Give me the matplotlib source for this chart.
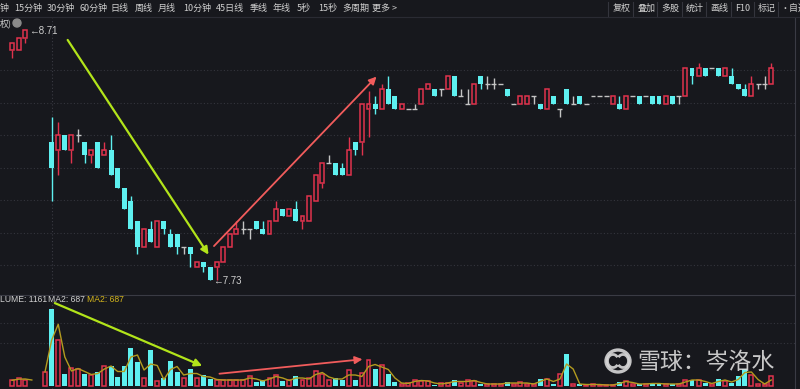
import numpy as np
import pandas as pd
import matplotlib
matplotlib.use("Agg")
import matplotlib.pyplot as plt
from matplotlib.patches import Ellipse, Arc

plt.rcParams['font.family'] = ['Noto Sans CJK SC', 'DejaVu Sans']

nan = np.nan
# daily candles (index 0 = leftmost bar)
opens = [8.63, 8.63, 8.68, nan, nan, nan, 8.27, 8.24, 8.30, 8.24,
         8.30, 8.27, 8.22, 8.27, 8.22, 8.24, 8.17, 8.09, 8.04, 7.96,
         7.86, 7.93, 7.86, 7.96, 7.91, 7.91, 7.86, 7.86, 7.78, 7.80,
         7.78, 7.78, 7.80, 7.86, 7.91, 7.93, 7.93, 7.96, 7.93, 7.91,
         7.96, 8.01, 7.98, 8.01, 7.96, 7.96, 8.04, 8.11, 8.19, 8.19,
         8.17, 8.14, 8.27, 8.27, 8.40, 8.42, 8.40, 8.48, 8.45, 8.40,
         8.40, 8.40, 8.42, 8.48, 8.48, 8.48, 8.48, 8.53, 8.45, 8.42,
         8.42, 8.53, 8.50, 8.50, 8.50, 8.48, 8.42, 8.42, 8.42, 8.45,
         8.42, 8.40, 8.45, 8.40, 8.48, 8.42, 8.45, 8.42, 8.45, 8.45,
         8.45, 8.42, 8.42, 8.40, 8.45, 8.45, 8.45, 8.45, 8.45, 8.42,
         8.45, 8.45, 8.45, 8.56, 8.53, 8.56, 8.56, 8.56, 8.53, 8.53,
         8.50, 8.48, 8.45, 8.50, 8.50, 8.50]
closes = [8.66, 8.68, 8.71, nan, nan, nan, 8.17, 8.30, 8.24, 8.30,
          8.30, 8.22, 8.24, 8.17, 8.24, 8.14, 8.09, 8.01, 7.93, 7.86,
          7.93, 7.88, 7.96, 7.93, 7.86, 7.86, 7.86, 7.83, 7.80, 7.78,
          7.73, 7.80, 7.86, 7.91, 7.93, 7.93, 7.93, 7.93, 7.91, 7.96,
          8.01, 7.98, 8.01, 7.96, 7.98, 8.06, 8.14, 8.19, 8.19, 8.14,
          8.14, 8.24, 8.24, 8.42, 8.42, 8.40, 8.48, 8.42, 8.40, 8.42,
          8.40, 8.40, 8.48, 8.50, 8.45, 8.48, 8.53, 8.45, 8.45, 8.42,
          8.50, 8.50, 8.50, 8.50, 8.50, 8.45, 8.42, 8.45, 8.45, 8.45,
          8.40, 8.48, 8.42, 8.40, 8.42, 8.42, 8.42, 8.42, 8.45, 8.45,
          8.45, 8.45, 8.40, 8.45, 8.45, 8.42, 8.45, 8.42, 8.42, 8.45,
          8.42, 8.45, 8.56, 8.53, 8.56, 8.53, 8.56, 8.53, 8.56, 8.50,
          8.48, 8.45, 8.50, 8.50, 8.50, 8.56]
highs = [8.66, 8.68, 8.71, nan, nan, nan, 8.37, 8.35, 8.30, 8.30,
         8.32, 8.27, 8.24, 8.27, 8.27, 8.30, 8.17, 8.09, 8.06, 7.96,
         7.93, 7.96, 7.96, 7.96, 7.93, 7.91, 7.86, 7.86, 7.80, 7.80,
         7.78, 7.80, 7.86, 7.91, 7.96, 7.96, 7.93, 7.96, 7.96, 7.96,
         8.04, 8.01, 8.01, 8.04, 7.98, 8.06, 8.14, 8.19, 8.22, 8.19,
         8.19, 8.29, 8.27, 8.42, 8.47, 8.45, 8.50, 8.53, 8.45, 8.42,
         8.40, 8.42, 8.48, 8.50, 8.48, 8.48, 8.53, 8.53, 8.48, 8.48,
         8.50, 8.53, 8.53, 8.52, 8.50, 8.48, 8.42, 8.45, 8.45, 8.45,
         8.42, 8.48, 8.45, 8.40, 8.48, 8.45, 8.45, 8.42, 8.45, 8.45,
         8.45, 8.45, 8.45, 8.45, 8.45, 8.45, 8.45, 8.45, 8.45, 8.45,
         8.45, 8.45, 8.56, 8.56, 8.58, 8.56, 8.56, 8.56, 8.56, 8.56,
         8.50, 8.50, 8.53, 8.50, 8.53, 8.58]
lows = [8.60, 8.63, 8.66, nan, nan, nan, 8.04, 8.14, 8.24, 8.19,
        8.27, 8.19, 8.19, 8.17, 8.22, 8.14, 8.09, 8.01, 7.93, 7.83,
        7.86, 7.88, 7.86, 7.91, 7.86, 7.83, 7.83, 7.78, 7.78, 7.76,
        7.73, 7.73, 7.80, 7.86, 7.91, 7.91, 7.89, 7.93, 7.91, 7.91,
        7.96, 7.98, 7.98, 7.96, 7.93, 7.96, 8.04, 8.09, 8.19, 8.14,
        8.14, 8.14, 8.22, 8.22, 8.29, 8.38, 8.40, 8.42, 8.40, 8.40,
        8.40, 8.40, 8.42, 8.48, 8.45, 8.45, 8.48, 8.45, 8.45, 8.42,
        8.42, 8.48, 8.48, 8.48, 8.50, 8.45, 8.42, 8.42, 8.42, 8.42,
        8.40, 8.40, 8.42, 8.37, 8.42, 8.42, 8.42, 8.42, 8.45, 8.45,
        8.45, 8.42, 8.40, 8.40, 8.45, 8.42, 8.45, 8.42, 8.42, 8.42,
        8.42, 8.42, 8.45, 8.50, 8.53, 8.53, 8.56, 8.53, 8.53, 8.50,
        8.48, 8.45, 8.45, 8.48, 8.48, 8.50]
volumes = [85, 120, 90, nan, nan, 213, 1161, 690, 180, 270,
           255, 180, 165, 210, 300, 300, 135, 300, 570, 360,
           120, 540, 75, 120, 375, 210, 120, 255, 120, 165,
           105, 90, 90, 90, 90, 90, 150, 60, 90, 120,
           165, 75, 90, 150, 90, 120, 225, 180, 90, 120,
           90, 240, 90, 195, 390, 255, 315, 180, 60, 30,
           45, 90, 75, 75, 15, 45, 45, 90, 45, 90,
           75, 30, 30, 30, 30, 60, 30, 60, 30, 30,
           105, 105, 30, 180, 480, 30, 30, 15, 30, 15,
           15, 15, 60, 75, 30, 30, 30, 45, 30, 30,
           30, 30, 90, 90, 90, 45, 30, 105, 75, 45,
           150, 255, 165, 30, 30, 150]
grid_prices = [8.553, 8.424, 8.298, 8.169, 8.044, 7.914, 7.789]
grid_vols = [945, 645]

top_menu = ['钟', '15分钟', '30分钟', '60分钟', '日线', '周线', '月线', '10分钟',
            '45日线', '季线', '年线', '5秒', '15秒', '多周期', '更多 >']
menu_x = [0, 14, 47, 79, 110, 135, 158, 183, 216, 250, 273, 297, 318, 342, 372]
right_menu = ['复权', '叠加', '多股', '统计', '画线', 'F10', '标记', '·自选']
right_x = [613, 637, 661, 686, 710, 735, 758, 780]

BG = '#17181d'
RED = '#e0334d'
CYAN = '#5ef0f0'
GRAY = '#c4c4c4'
GRID = '#34353d'
SMALL = ['Liberation Sans', 'DejaVu Sans']

o = np.array(opens); c = np.array(closes)
h = np.array(highs); l = np.array(lows)
v = np.array(volumes)
x = np.arange(len(o))
ma2 = pd.Series(v).rolling(2, min_periods=1).mean()

W, H = 800, 389
fig = plt.figure(figsize=(8, 3.89), dpi=100, facecolor=BG)
ax = fig.add_axes([0, (H - 295) / H, 795 / W, (295 - 18) / H], facecolor=BG)
axv = fig.add_axes([0, 0, 795 / W, (H - 295) / H], facecolor=BG)

bw = 0.75
up = (c > o)
dn = (c < o)
doji = (c == o)

# price panel
for gp in grid_prices:
    ax.axhline(gp, color=GRID, lw=0.8, ls=(0, (1, 2)), zorder=0)
ax.axvline(6, color='#3a3b44', lw=0.8, ls=(0, (1, 2)), zorder=0)

ax.vlines(x[dn], l[dn], h[dn], color=CYAN, lw=1)
ax.bar(x[dn], (o - c)[dn], bottom=c[dn], width=bw, color=CYAN, lw=0)
ax.vlines(x[up], np.maximum(o, c)[up], h[up], color=RED, lw=1)
ax.vlines(x[up], l[up], np.minimum(o, c)[up], color=RED, lw=1)
ax.bar(x[up], (c - o)[up], bottom=o[up], width=bw - 0.15, facecolor=BG,
       edgecolor=RED, lw=1.1)
ax.vlines(x[doji], l[doji], h[doji], color=GRAY, lw=1)
ax.hlines(c[doji], x[doji] - bw / 2, x[doji] + bw / 2, color=GRAY, lw=1)

ax.text(2.5, 8.705, '←8.71', color='#cfcfcf', fontsize=7, va='center', family=SMALL)
ax.text(30.4, 7.725, '←7.73', color='#cfcfcf', fontsize=7, va='center', family=SMALL)

ax.annotate('', xy=(30.0, 7.82), xytext=(8.2, 8.68),
            arrowprops=dict(arrowstyle='-|>', color='#b2e41a', lw=1.6, mutation_scale=11))
ax.annotate('', xy=(55.5, 8.535), xytext=(30.3, 7.855),
            arrowprops=dict(arrowstyle='-|>', color='#f25c5c', lw=1.3, mutation_scale=11))

ax.set_xlim(-1.82, 118.6)
ax.set_ylim(7.671, 8.757)
ax.set_xticks([]); ax.set_yticks([])
for s in ax.spines.values():
    s.set_visible(False)
ax.spines['right'].set_visible(True)
ax.spines['right'].set_color('#3a3b44')

# volume panel
vu = (c >= o)
vd = (c < o)
for gv in grid_vols:
    axv.axhline(gv, color=GRID, lw=0.8, ls=(0, (1, 2)), zorder=0)
axv.axvline(6, color='#3a3b44', lw=0.8, ls=(0, (1, 2)), zorder=0)
axv.bar(x[vd], v[vd], width=bw, color=CYAN, lw=0)
axv.bar(x[vu], v[vu], width=bw - 0.15, facecolor=BG, edgecolor=RED, lw=1.1)
axv.bar([5], [v[5]], width=bw - 0.15, facecolor=BG, edgecolor=RED, lw=1.1)
axv.plot(x, ma2, color='#b39b1f', lw=1)

axv.annotate('', xy=(29.2, 285), xytext=(6.1, 1260),
             arrowprops=dict(arrowstyle='-|>', color='#b2e41a', lw=1.6, mutation_scale=11))
axv.annotate('', xy=(53.5, 405), xytext=(31.0, 180),
             arrowprops=dict(arrowstyle='-|>', color='#f25c5c', lw=1.3, mutation_scale=11))

axv.set_xlim(-1.82, 118.6)
axv.set_ylim(-45, 1365)
axv.set_xticks([]); axv.set_yticks([])
for s in axv.spines.values():
    s.set_visible(False)
axv.spines['top'].set_visible(True)
axv.spines['top'].set_color('#3a3b44')
axv.spines['right'].set_visible(True)
axv.spines['right'].set_color('#3a3b44')

# legend of volume panel
fig.text(0 / W, 1 - 300 / H, 'LUME: 1161', color='#d0d0d0', fontsize=6.2, va='center', family=SMALL)
fig.text(48 / W, 1 - 300 / H, 'MA2: 687', color='#d0d0d0', fontsize=6.2, va='center', family=SMALL)
fig.text(87 / W, 1 - 300 / H, 'MA2: 687', color='#d4b51c', fontsize=6.2, va='center', family=SMALL)

# top toolbar
for t, px in zip(top_menu, menu_x):
    fig.text(px / W, 1 - 8.5 / H, t, color='#cfcfcf', fontsize=6.5, va='center')
for t, px in zip(right_menu, right_x):
    fig.text(px / W, 1 - 8.5 / H, t, color='#cfcfcf', fontsize=6.5, va='center')
for px in [608, 633, 657, 682, 706, 731, 754, 778]:
    fig.add_artist(plt.Line2D([px / W, px / W], [1 - 2 / H, 1 - 16 / H], color='#34353d', lw=0.8))
fig.add_artist(plt.Line2D([0, 1], [1 - 17 / H, 1 - 17 / H], color='#2a2b33', lw=0.8))
fig.text(0, 1 - 23 / H, '权)', color='#cfcfcf', fontsize=6.5, va='center')
fig.add_artist(Ellipse((17 / W, 1 - 23 / H), 8 / W, 8 / H, color='#8a8a8a'))

# watermark
cx, cy = 618, 361
fig.add_artist(Ellipse((cx / W, 1 - cy / H), 24 / W, 22 / H, fill=False,
                       edgecolor='#d8d8d8', lw=2.4, alpha=0.9))
fig.add_artist(Arc(((cx - 5) / W, 1 - cy / H), 11 / W, 13 / H, theta1=60, theta2=300,
                   color='#d8d8d8', lw=2, alpha=0.9))
fig.add_artist(Arc(((cx + 5) / W, 1 - cy / H), 11 / W, 13 / H, theta1=240, theta2=480,
                   color='#d8d8d8', lw=2, alpha=0.9))
fig.text(637 / W, 1 - 362 / H, '雪球：岑洛水', color='#dcdcdc', fontsize=16.5,
         va='center', alpha=0.9)

fig.savefig('out.png', dpi=100, facecolor=BG)
